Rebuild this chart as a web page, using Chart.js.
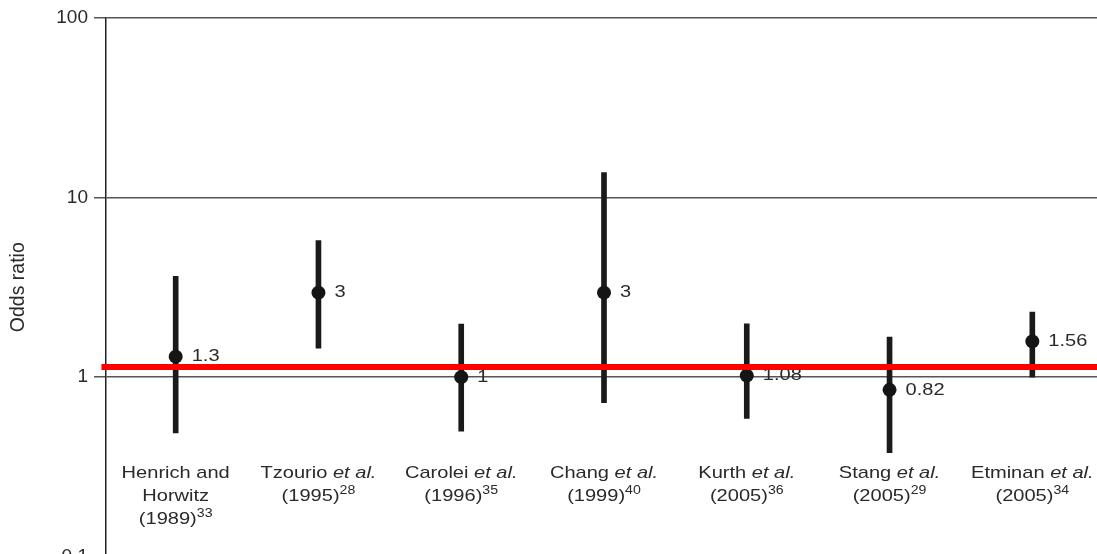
<!DOCTYPE html>
<html>
<head>
<meta charset="utf-8">
<script src="https://cdn.jsdelivr.net/npm/chart.js@4/dist/chart.umd.min.js"></script>
<style>
  html, body { margin: 0; padding: 0; background: #fff; overflow: hidden; }
  #wrap { width: 1097px; height: 575px; }
</style>
</head>
<body>
<div id="wrap"><canvas id="or-chart" width="1097" height="575"></canvas></div>
<script>
// studies (x axis), one per column
const authors = ["Henrich and\nHorwitz", "Tzourio", "Carolei", "Chang", "Kurth", "Stang", "Etminan"]
const etAl = [false, true, true, true, true, true, true]
const years = ["1989", "1995", "1996", "1999", "2005", "2005", "2005"]
const refs = ["33", "28", "35", "40", "36", "29", "34"]

// odds ratios and 95% CI
const oddsRatio = [1.3, 2.95, 1.0, 2.95, 1.02, 0.85, 1.58]
const ciLow = [0.49, 1.45, 0.5, 0.72, 0.59, 0.38, 1.0]
const ciHigh = [3.63, 5.74, 1.97, 13.7, 1.98, 1.67, 2.3]
const valueLabels = ["1.3", "3", "1", "3", "1.08", "0.82", "1.56"]

// pooled reference line
const refLine = 1.14

// y axis ticks
const yTicks = [0.1, 1, 10, 100]

const xMin = -0.488
const xMax = 6.453

let ci_data = []
let or_data = []
for (let i = 0; i < authors.length; i++) {
  ci_data.push({ x: i, y: [ciLow[i], ciHigh[i]] })
  or_data.push({ x: i, y: oddsRatio[i] })
}

const textColor = "#2a2a2a"
const stretch = 1.18

// draw text slightly stretched horizontally, like the original
function stretchedText(ctx, txt, x, y, font) {
  ctx.save()
  ctx.font = font
  ctx.translate(x, y)
  ctx.scale(stretch, 1)
  ctx.fillText(txt, 0, 0)
  ctx.restore()
  ctx.font = font
  return ctx.measureText(txt).width * stretch
}

function measure(ctx, txt, font) {
  ctx.font = font
  return ctx.measureText(txt).width * stretch
}

const labelPlugin = {
  id: "labels",
  beforeDatasetsDraw(chart) {
    const ctx = chart.ctx
    const xs = chart.scales.x
    const ys = chart.scales.y
    ctx.save()
    ctx.fillStyle = textColor
    ctx.textBaseline = "middle"
    ctx.textAlign = "left"
    // value labels next to points
    for (let i = 0; i < oddsRatio.length; i++) {
      const px = xs.getPixelForValue(i)
      const py = ys.getPixelForValue(oddsRatio[i])
      stretchedText(ctx, valueLabels[i], px + 16, py, "17px 'Liberation Sans', Arial, sans-serif")
    }
    ctx.restore()
  },
  afterDraw(chart) {
    const ctx = chart.ctx
    const xs = chart.scales.x
    const regular = "17px 'Liberation Sans', Arial, sans-serif"
    const italic = "italic 17px 'Liberation Sans', Arial, sans-serif"
    const sup = "12px 'Liberation Sans', Arial, sans-serif"
    ctx.save()
    ctx.fillStyle = textColor
    ctx.textBaseline = "middle"
    ctx.textAlign = "left"
    for (let i = 0; i < authors.length; i++) {
      const cx = xs.getPixelForValue(i)
      let lines = authors[i].split("\n").map(t => [[t, regular]])
      if (etAl[i]) lines[lines.length - 1].push([" et al.", italic])
      lines.push([["(" + years[i] + ")", regular], [refs[i], sup]])
      let y = 473
      for (const line of lines) {
        let w = 0
        for (const seg of line) w += measure(ctx, seg[0], seg[1])
        let x = cx - w / 2
        for (const seg of line) {
          const dy = seg[1] === sup ? -5 : 0
          x += stretchedText(ctx, seg[0], x, y + dy, seg[1])
        }
        y += 23
      }
    }
    ctx.restore()
  }
}

new Chart(document.getElementById("or-chart"), {
  type: "bar",
  data: {
    datasets: [
      {
        type: "line",
        data: [{ x: -0.52, y: refLine }, { x: xMax + 0.2, y: refLine }],
        borderColor: "#ff0000",
        borderWidth: 6,
        pointRadius: 0,
        clip: false,
        order: 0
      },
      {
        type: "scatter",
        data: or_data,
        pointRadius: 7,
        pointBackgroundColor: "#151515",
        pointBorderWidth: 0,
        order: 1
      },
      {
        type: "bar",
        data: ci_data,
        backgroundColor: "#1a1a1a",
        barThickness: 5,
        borderSkipped: false,
        order: 2
      }
    ]
  },
  options: {
    responsive: false,
    animation: false,
    layout: { autoPadding: false, padding: { top: 16, bottom: 18, right: 0, left: 0 } },
    plugins: { legend: { display: false }, tooltip: { enabled: false } },
    scales: {
      x: {
        type: "linear",
        min: xMin,
        max: xMax,
        offset: false,
        display: false
      },
      y: {
        type: "logarithmic",
        min: 0.1,
        max: 100,
        afterBuildTicks: (scale) => {
          scale.ticks = yTicks.map(v => ({ value: v }))
        },
        afterFit: (scale) => {
          scale.width = 106
        },
        grid: {
          color: "#555",
          lineWidth: 1.5,
          tickLength: 12,
          drawTicks: true
        },
        border: { color: "#222", width: 1.5 },
        ticks: {
          padding: 6,
          color: textColor,
          font: { family: "'Liberation Sans', Arial, sans-serif", size: 19 },
          callback: (v) => String(v)
        },
        title: {
          display: true,
          text: "Odds ratio",
          color: textColor,
          font: { family: "'Liberation Sans', Arial, sans-serif", size: 19.5 },
          padding: { top: 7, bottom: 0 }
        }
      }
    }
  },
  plugins: [labelPlugin]
});
</script>
</body>
</html>
